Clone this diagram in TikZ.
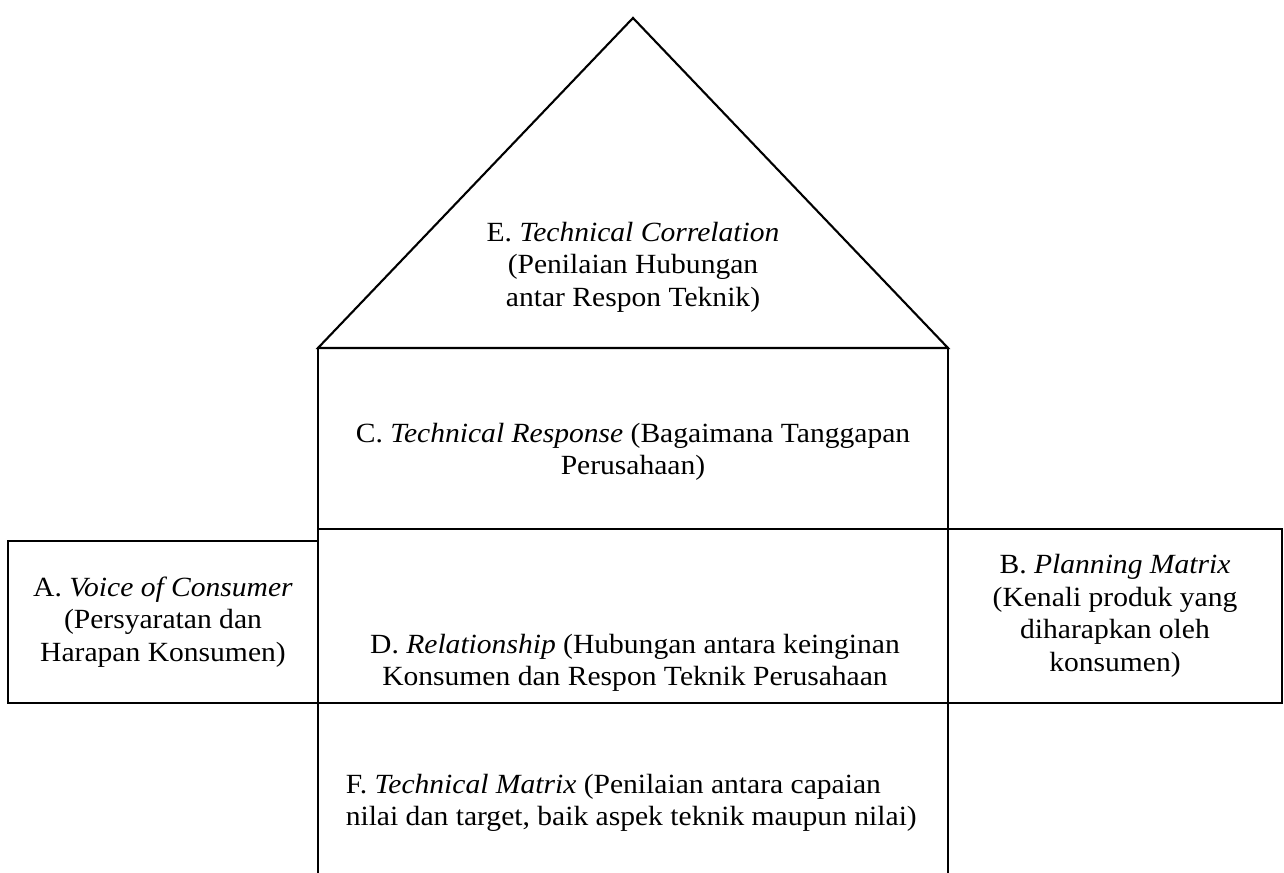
\documentclass[tikz,border=0pt]{standalone}
\usepackage{fontspec}
\setmainfont{Liberation Serif}[FakeStretch=1.065]
\begin{document}
\begin{tikzpicture}[x=1cm,y=1cm,line width=0.6pt,
  lbl/.style={align=center,font=\fontsize{7.9}{9.25}\selectfont}]
\useasboundingbox (0,0) rectangle (12.84,8.73);
% roof
\draw (3.18,5.25) -- (6.33,8.55) -- (9.48,5.25) -- cycle;
\node[lbl] (corr) at (6.33,6.06) {E. \textit{Technical Correlation}\\(Penilaian Hubungan\\antar Respon Teknik)};

% middle column
\draw (3.18,0) -- (3.18,5.25);
\draw (9.48,0) -- (9.48,5.25);
\draw (3.18,3.44) -- (9.48,3.44);
\node[lbl] (resp) at (6.33,4.21) {C. \textit{Technical Response} (Bagaimana Tanggapan\\Perusahaan)};
\node[lbl] (rel) at (6.35,2.10) {D. \textit{Relationship} (Hubungan antara keinginan\\Konsumen dan Respon Teknik Perusahaan};

% side wings
\draw (0.08,1.70) rectangle (3.18,3.32) node[lbl,pos=.5] (voc) {A. \textit{Voice of Consumer}\\(Persyaratan dan\\Harapan Konsumen)};
\draw (9.48,1.70) rectangle (12.82,3.44) node[lbl,pos=.5] (plan) {B. \textit{Planning Matrix}\\(Kenali produk yang\\diharapkan oleh\\konsumen)};
\draw (3.18,1.70) -- (9.48,1.70);

% bottom
\node[lbl,align=left,anchor=west] (tmat) at (3.33,0.70) {F. \textit{Technical Matrix} (Penilaian antara capaian\\nilai dan target, baik aspek teknik maupun nilai)};
\end{tikzpicture}
\end{document}
